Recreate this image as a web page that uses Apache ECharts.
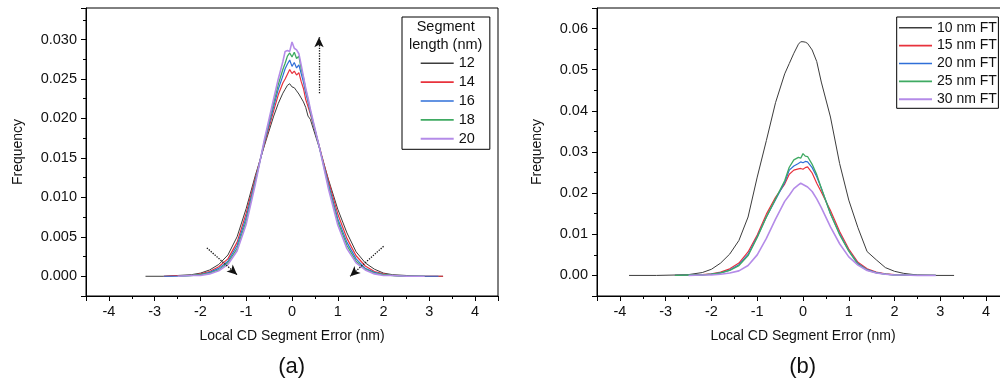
<!DOCTYPE html>
<html>
<head>
<meta charset="utf-8">
<script src="https://cdn.jsdelivr.net/npm/echarts@6/dist/echarts.min.js"></script>
<style>
html, body { margin: 0; padding: 0; background: #fff; }
#chart { width: 1000px; height: 386px; }
</style>
</head>
<body>
<div id="chart"></div>
<script>
// panel (a): local CD segment error (nm) vs frequency, per segment length
const xA = [-3.2, -2.8, -2.5, -2.2, -2.0, -1.8, -1.6, -1.4, -1.2, -1.0, -0.8, -0.6, -0.4, -0.3, -0.2, -0.15, -0.1, -0.05, 0, 0.05,
            0.1, 0.15, 0.2, 0.25, 0.3, 0.35, 0.4, 0.6, 0.8, 1.0, 1.2, 1.4, 1.6, 1.8, 2.0, 2.2, 2.5, 2.9, 3.2, 3.3]
const a12 = [0, 0, 0.0001, 0.0002, 0.0004, 0.0008, 0.0015, 0.0027, 0.0050, 0.0086, 0.0128, 0.0166, 0.0203, 0.0219, 0.0232, 0.0237, 0.0242, 0.0244, 0.0240, 0.0239,
             0.0235, 0.0231, 0.0226, 0.0221, 0.0214, 0.0203, 0.0199, 0.0162, 0.0122, 0.0085, 0.0055, 0.0031, 0.0017, 0.0009, 0.0004, 0.0002, 0.0001, 0, 0, 0]
const a14 = [null, 0, 0.0001, 0.0001, 0.0003, 0.0006, 0.0012, 0.0022, 0.0043, 0.0080, 0.0125, 0.0168, 0.0210, 0.0230, 0.0245, 0.0250, 0.0256, 0.0262, 0.0257, 0.0260,
             0.0255, 0.0258, 0.0247, 0.0238, 0.0224, 0.0215, 0.0206, 0.0164, 0.0120, 0.0079, 0.0048, 0.0026, 0.0013, 0.0006, 0.0003, 0.0001, 0, 0, 0, 0]
const a16 = [null, 0, 0, 0.0001, 0.0002, 0.0005, 0.0010, 0.0019, 0.0039, 0.0075, 0.0122, 0.0170, 0.0215, 0.0237, 0.0254, 0.0263, 0.0269, 0.0274, 0.0266, 0.0271,
             0.0264, 0.0268, 0.0257, 0.0246, 0.0232, 0.0221, 0.0208, 0.0163, 0.0116, 0.0073, 0.0043, 0.0022, 0.0010, 0.0005, 0.0002, 0.0001, 0, 0, 0, null]
const a18 = [null, null, 0, 0.0001, 0.0002, 0.0004, 0.0008, 0.0017, 0.0035, 0.0070, 0.0120, 0.0172, 0.0220, 0.0243, 0.0262, 0.0270, 0.0279, 0.0283, 0.0278, 0.0284,
             0.0276, 0.0279, 0.0263, 0.0252, 0.0237, 0.0224, 0.0210, 0.0163, 0.0113, 0.0069, 0.0039, 0.0019, 0.0009, 0.0004, 0.0002, 0.0001, 0, 0, null, null]
const a20 = [null, null, 0, 0.0001, 0.0001, 0.0003, 0.0007, 0.0015, 0.0032, 0.0066, 0.0117, 0.0174, 0.0225, 0.0250, 0.0272, 0.0285, 0.0286, 0.0285, 0.0297, 0.0289,
             0.0287, 0.0282, 0.0268, 0.0253, 0.0238, 0.0226, 0.0212, 0.0163, 0.0110, 0.0065, 0.0035, 0.0017, 0.0008, 0.0003, 0.0001, 0.0001, 0, 0, null, null]
const namesA = ["12", "14", "16", "18", "20"]

// panel (b): per FT size
const xB = [-3.8, -3.2, -2.8, -2.5, -2.2, -2.0, -1.8, -1.6, -1.4, -1.2, -1.0, -0.8, -0.6, -0.4, -0.3, -0.2, -0.1, -0.05, 0, 0.05,
            0.1, 0.2, 0.3, 0.4, 0.6, 0.8, 1.0, 1.2, 1.4, 1.6, 1.8, 2.0, 2.2, 2.5, 2.9, 3.3]
const b10 = [0, 0, 0.0001, 0.0002, 0.0007, 0.0015, 0.0030, 0.0052, 0.0085, 0.0142, 0.0239, 0.0328, 0.0420, 0.0490, 0.0515, 0.0540, 0.0562, 0.0568, 0.0568, 0.0567,
             0.0564, 0.0548, 0.0520, 0.0470, 0.0385, 0.0272, 0.0183, 0.0116, 0.0058, 0.0038, 0.0019, 0.0010, 0.0005, 0.0001, 0, 0]
const b15 = [null, null, 0, 0.0001, 0.0002, 0.0004, 0.0008, 0.0016, 0.0030, 0.0057, 0.0098, 0.0149, 0.0190, 0.0222, 0.0246, 0.0256, 0.0259, 0.0260, 0.0258, 0.0262,
             0.0264, 0.0249, 0.0224, 0.0203, 0.0158, 0.0107, 0.0064, 0.0032, 0.0016, 0.0008, 0.0004, 0.0002, 0.0001, 0, 0, null]
const b20 = [null, null, 0, 0.0001, 0.0001, 0.0003, 0.0006, 0.0013, 0.0026, 0.0051, 0.0094, 0.0142, 0.0184, 0.0226, 0.0256, 0.0266, 0.0272, 0.0276, 0.0274, 0.0277,
             0.0276, 0.0262, 0.0240, 0.0212, 0.0150, 0.0101, 0.0060, 0.0029, 0.0014, 0.0007, 0.0003, 0.0001, 0.0001, 0, 0, null]
const b25 = [null, null, 0, 0.0001, 0.0001, 0.0003, 0.0006, 0.0012, 0.0024, 0.0048, 0.0092, 0.0142, 0.0186, 0.0230, 0.0263, 0.0281, 0.0287, 0.0285, 0.0296, 0.0290,
             0.0289, 0.0270, 0.0245, 0.0212, 0.0150, 0.0099, 0.0059, 0.0027, 0.0013, 0.0006, 0.0003, 0.0001, 0.0001, 0, 0, null]
const b30 = [null, null, null, 0, 0.0001, 0.0001, 0.0003, 0.0006, 0.0011, 0.0024, 0.0050, 0.0090, 0.0137, 0.0180, 0.0195, 0.0211, 0.0220, 0.0224, 0.0221, 0.0218,
             0.0215, 0.0204, 0.0186, 0.0165, 0.0118, 0.0077, 0.0045, 0.0025, 0.0012, 0.0006, 0.0003, 0.0001, 0.0001, 0, 0, null]
const namesB = ["10 nm FT", "15 nm FT", "20 nm FT", "25 nm FT", "30 nm FT"]

// dotted arrows in panel (a), [from, to] in data units
const arrowsA = [
    [[0.59, 0.0232], [0.59, 0.0303]],
    [[-1.86, 0.0036], [-1.2, 0.0002]],
    [[2.0, 0.0038], [1.27, 0.0000]]
]

const colors = ["#3c3c3c", "#e8323c", "#2f6fd8", "#3faa62", "#b48be8"]
const widths = [1, 1.2, 1.2, 1.3, 1.6]
const font = "Liberation Sans, Arial, sans-serif"

function pairs(xs, ys) {
    let out = []
    xs.forEach(function (x, i) {
        if (ys[i] != null) out.push([x, ys[i]])
    })
    return out
}

function xAxisFor(gridIndex) {
    return {
        type: "value", gridIndex: gridIndex, min: -4.5, max: 4.5, splitNumber: 9,
        axisLine: { show: true, onZero: false, lineStyle: { color: "#000", width: 1 } },
        axisTick: { show: true, length: 5, lineStyle: { color: "#000" } },
        minorTick: { show: true, splitNumber: 2, length: 3, lineStyle: { color: "#000" } },
        splitLine: { show: false },
        axisLabel: { margin: 8, color: "#111", fontSize: 14.5, fontFamily: font, showMinLabel: false, showMaxLabel: false },
        name: "Local CD Segment Error (nm)", nameLocation: "middle", nameGap: 33,
        nameTextStyle: { color: "#111", fontSize: 14, fontFamily: font }
    }
}

function yAxisFor(gridIndex, min, max, digits, gap) {
    return {
        type: "value", gridIndex: gridIndex, min: min, max: max, splitNumber: 7,
        axisLine: { show: true, onZero: false, lineStyle: { color: "#000", width: 1 } },
        axisTick: { show: true, length: 5, lineStyle: { color: "#000" } },
        minorTick: { show: true, splitNumber: 2, length: 3, lineStyle: { color: "#000" } },
        splitLine: { show: false },
        axisLabel: {
            margin: 9, color: "#111", fontSize: 14.5, fontFamily: font, showMinLabel: false, showMaxLabel: false,
            formatter: function (v) { return v.toFixed(digits) }
        },
        name: "Frequency", nameLocation: "middle", nameGap: gap, nameRotate: 90,
        nameTextStyle: { color: "#111", fontSize: 14, fontFamily: font }
    }
}

function lineSeries(name, idx, data, i) {
    return {
        name: name, type: "line", xAxisIndex: idx, yAxisIndex: idx,
        data: data, symbol: "none", showSymbol: false,
        lineStyle: { color: colors[i], width: widths[i] },
        itemStyle: { color: colors[i] },
        animation: false
    }
}

// legend icon: a flat bar as thick as the series line
function legendData(names) {
    return names.map(function (n, i) {
        let h = widths[i] + 0.4
        return { name: n, icon: "path://M0,0H33V" + h + "H0Z" }
    })
}

let seriesA = [a12, a14, a16, a18, a20].map(function (ys, i) {
    return lineSeries(namesA[i], 0, pairs(xA, ys), i)
})
seriesA[0].markLine = {
    silent: true,
    symbol: ["none", "arrow"],
    symbolSize: [7, 10],
    label: { show: false },
    lineStyle: { color: "#111", type: "dotted", width: 1.3 },
    data: arrowsA.map(function (a) {
        return [{ coord: a[0] }, { coord: a[1] }]
    })
}
let seriesB = [b10, b15, b20, b25, b30].map(function (ys, i) {
    return lineSeries(namesB[i], 1, pairs(xB, ys), i)
})

let chart = echarts.init(document.getElementById("chart"))
let legendText = { fontSize: 14, fontFamily: font, color: "#111" }
let option = {
    backgroundColor: "#fff",
    animation: false,
    grid: [
        { left: 86, top: 8, width: 412, height: 288, show: true, borderColor: "#000", borderWidth: 1, backgroundColor: "transparent", containLabel: false, outerBoundsMode: "none" },
        { left: 597, top: 8, width: 412, height: 288, show: true, borderColor: "#000", borderWidth: 1, backgroundColor: "transparent", containLabel: false, outerBoundsMode: "none" }
    ],
    xAxis: [xAxisFor(0), xAxisFor(1)],
    yAxis: [yAxisFor(0, -0.0025, 0.034, 3, 61), yAxisFor(1, -0.005, 0.065, 2, 53)],
    legend: [
        {
            orient: "vertical", left: 402, top: 17, padding: [38.7, 15, 3, 18.7],
            itemWidth: 33, itemHeight: 14, itemGap: 3.9, symbolKeepAspect: true,
            borderColor: "#000", borderWidth: 1, backgroundColor: "#fff",
            textStyle: { fontSize: 14.5, fontFamily: font, color: "#111" }, data: legendData(namesA)
        },
        {
            orient: "vertical", left: 896.7, top: 17, padding: [3.7, 1.5, 2, 2.3],
            itemWidth: 33, itemHeight: 14, itemGap: 3.9, symbolKeepAspect: true,
            borderColor: "#000", borderWidth: 1, backgroundColor: "#fff",
            textStyle: legendText, data: legendData(namesB)
        }
    ],
    graphic: [
        { type: "text", z: 100, x: 445.7, y: 27, style: { text: "Segment", fill: "#111", font: "14.5px " + font, textAlign: "center", textVerticalAlign: "middle" } },
        { type: "text", z: 100, x: 445.7, y: 45, style: { text: "length (nm)", fill: "#111", font: "14.5px " + font, textAlign: "center", textVerticalAlign: "middle" } },
        { type: "text", z: 100, x: 291.7, y: 367, style: { text: "(a)", fill: "#111", font: "22px " + font, textAlign: "center", textVerticalAlign: "middle" } },
        { type: "text", z: 100, x: 802.7, y: 367, style: { text: "(b)", fill: "#111", font: "22px " + font, textAlign: "center", textVerticalAlign: "middle" } }
    ],
    series: seriesA.concat(seriesB)
}
chart.setOption(option)
</script>
</body>
</html>
